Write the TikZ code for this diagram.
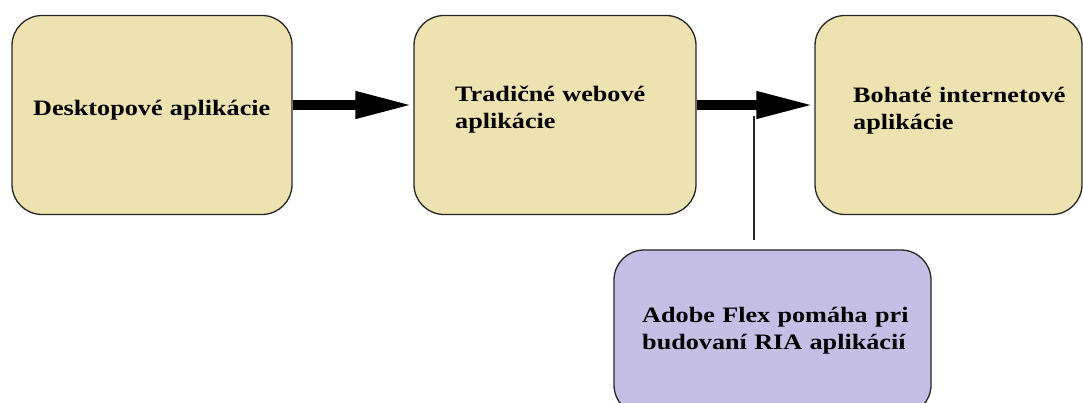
\documentclass[tikz,border=0pt]{standalone}
\usepackage{fontspec}
\setmainfont{Liberation Serif}[FakeStretch=1.19]
\usetikzlibrary{arrows.meta}
\definecolor{boxtan}{RGB}{238,226,176}
\definecolor{boxlav}{RGB}{198,191,229}
\begin{document}
\begin{tikzpicture}[x=1pt,y=-1pt,
  box/.style={draw=black!85, line width=1.3pt, rounded corners=30pt, inner sep=0pt, fill=boxtan},
  lbl/.style={anchor=base west, inner sep=0pt, align=left, text width=300pt,
    font=\bfseries\fontsize{22}{27}\selectfont},
  bigarrow/.style={line width=10pt, -{Triangle[length=58pt, width=25pt]}},
  thin/.style={line width=1.3pt, draw=black!85}]
\useasboundingbox (0,0) rectangle (1083,403);
\clip (0,0) rectangle (1083,403);
\node[box, minimum width=280pt, minimum height=199pt] (b1) at (152,115) {};
\node[box, minimum width=282pt, minimum height=199pt] (b2) at (555,115) {};
\node[box, minimum width=267pt, minimum height=199pt] (b3) at (948.5,115) {};
\node[box, fill=boxlav, minimum width=317pt, minimum height=165pt] (b4) at (772.5,332.5) {};
\node[lbl] (t1) at (33,116) {Desktopové aplikácie};
\node[lbl] (t2) at (455,102) {Tradičné webové\\aplikácie};
\node[lbl] (t3) at (853,103) {Bohaté internetové\\aplikácie};
\node[lbl] (t4) at (642,322) {Adobe Flex pomáha pri\\budovaní RIA aplikácií};
\draw[bigarrow] ([yshift=10pt]b1.east) -- ([yshift=10pt]b2.west);
\draw[bigarrow] ([yshift=10pt]b2.east) -- ([yshift=10pt]b3.west);
\coordinate (v1) at (754,116);
\draw[thin, shorten >=9pt] (v1) -- (v1 |- b4.north);
\end{tikzpicture}
\end{document}
